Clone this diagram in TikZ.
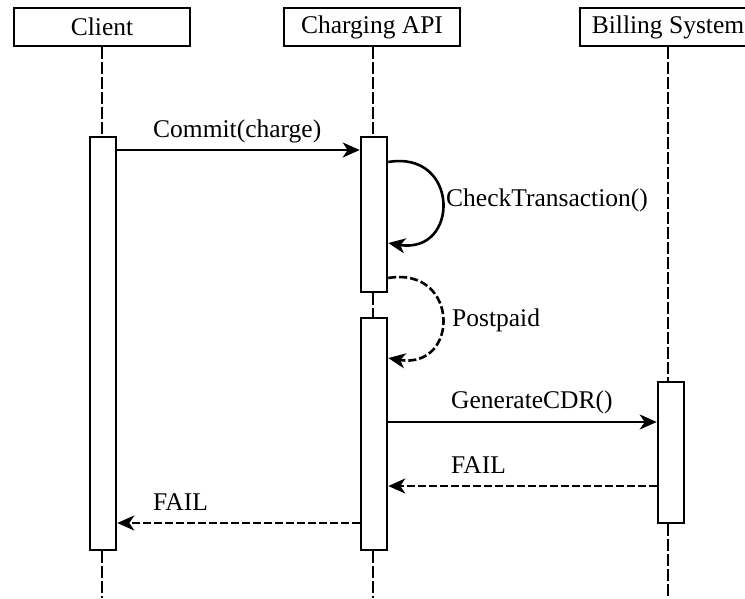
\documentclass[tikz,border=0pt]{standalone}
\usepackage{fontspec}
\setmainfont{Liberation Serif}
\usetikzlibrary{arrows.meta}
\begin{document}
\begin{tikzpicture}[x=1pt,y=-1pt,
  every node/.style={font=\fontsize{25.5}{30}\selectfont, inner sep=0pt},
  head/.style={draw, line width=2.6pt, fill=white, minimum width=176pt, minimum height=38pt},
  actbar/.style={draw, line width=2.6pt, fill=white, minimum width=26pt},
  life/.style={line width=2.6pt, dash pattern=on 12pt off 3pt},
  msg/.style={line width=2.6pt, -{Stealth[length=17pt,width=15pt,inset=5pt]}},
  ret/.style={msg, dash pattern=on 8pt off 3pt},
  lbl/.style={anchor=base west}]
\useasboundingbox (0,0) rectangle (745,598);
\clip (0,0) rectangle (745,598);
% participants
\node[head] (client) at (102,27) {Client};
\node[head] (api) at (372,27) {Charging API};
\node[head] (bill) at (668,27) {Billing System};
% activation bars
\node[actbar, minimum height=413pt] (cbar) at (103,343.5) {};
\node[actbar, minimum height=155pt] (abar1) at (374,214.5) {};
\node[actbar, minimum height=232pt] (abar2) at (374,434) {};
\node[actbar, minimum height=141pt] (bbar) at (671,452.5) {};
% lifeline ends
\coordinate (cend) at (102,598);
\coordinate (aend) at (373,598);
\coordinate (bend) at (668,598);
% lifelines
\draw[life] (client.south) -- (client.south |- cbar.north);
\draw[life] (cbar.south -| client.south) -- (cend);
\draw[life] (api.south -| aend) -- (abar1.north -| aend);
\draw[life] (abar1.south -| aend) -- (abar2.north -| aend);
\draw[life] (abar2.south -| aend) -- (aend);
\draw[life] (bill.south) -- (bill.south |- bbar.north);
\draw[life] (bbar.south -| bend) -- (bend);
% message rows
\coordinate (r1) at (0,150);
\coordinate (r2a) at (0,162);
\coordinate (r2b) at (0,243);
\coordinate (r3a) at (0,278);
\coordinate (r3b) at (0,358);
\coordinate (r4) at (0,422);
\coordinate (r5) at (0,486);
\coordinate (r6) at (0,523);
% messages
\draw[msg] (cbar.east |- r1) -- (abar1.west |- r1);
\node[lbl] (l1) at (153,137) {Commit(charge)};
\draw[msg] (abar1.east |- r2a) .. controls (460,150) and (460,255) .. (abar1.east |- r2b);
\node[lbl] (l2) at (446,206) {CheckTransaction()};
\draw[ret] (abar1.east |- r3a) .. controls (460,266) and (460,370) .. (abar2.east |- r3b);
\node[lbl] (l3) at (452,326) {Postpaid};
\draw[msg] (abar2.east |- r4) -- (bbar.west |- r4);
\node[lbl] (l4) at (451,408) {GenerateCDR()};
\draw[ret] (bbar.west |- r5) -- (abar2.east |- r5);
\node[lbl] (l5) at (451,473) {FAIL};
\draw[ret] (abar2.west |- r6) -- (cbar.east |- r6);
\node[lbl] (l6) at (153,510) {FAIL};
\end{tikzpicture}
\end{document}
